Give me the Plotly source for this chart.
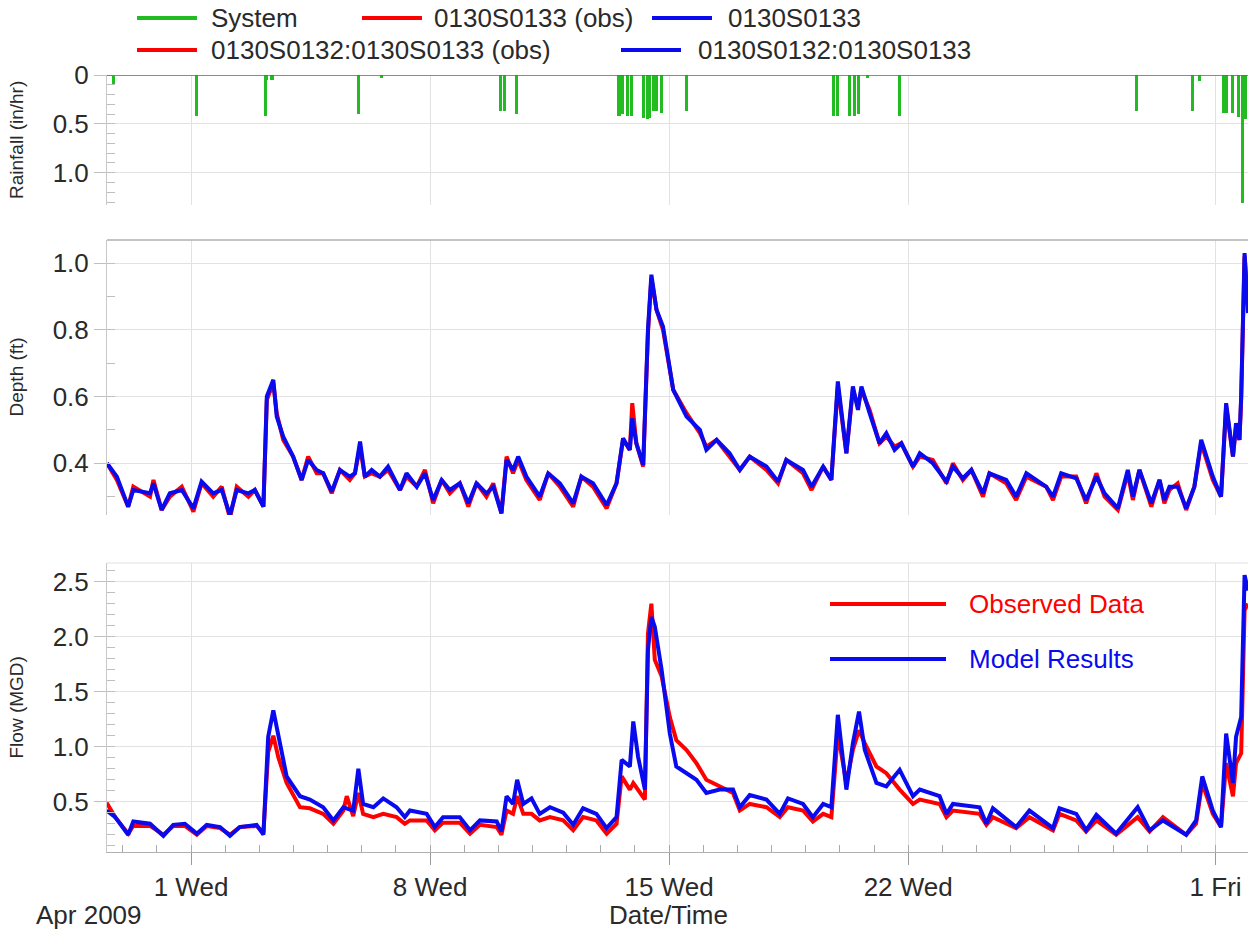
import pandas as pd
import plotly.graph_objects as go
from plotly.subplots import make_subplots

# ---------------- data (days measured from 2009-04-01 00:00) ----------------
TICK_DAYS = [0, 7, 14, 21, 30]
TICK_LABELS = ["1 Wed", "8 Wed", "15 Wed", "22 Wed", "1 Fri"]

RAIN_DAYS = [-2.27, 0.16, 2.17, 2.22, 2.37, 4.90, 5.59, 9.07, 9.19, 9.53,
             12.53, 12.64, 12.79, 12.89, 13.26, 13.36, 13.43, 13.55, 13.64, 13.77,
             14.52, 18.82, 18.94, 19.29, 19.43, 19.55, 19.81, 20.75, 27.69, 29.32,
             29.53, 30.23, 30.32, 30.50, 30.67, 30.79, 30.88]
RAIN_VALS = [0.09, 0.42, 0.42, 0.05, 0.05, 0.40, 0.03, 0.37, 0.37, 0.40,
             0.42, 0.40, 0.42, 0.42, 0.44, 0.45, 0.44, 0.37, 0.37, 0.39,
             0.37, 0.42, 0.42, 0.42, 0.42, 0.40, 0.03, 0.42, 0.37, 0.37,
             0.06, 0.39, 0.39, 0.39, 0.43, 1.31, 0.45]

DEPTH_DAYS = [-2.46, -2.17, -1.84, -1.69, -1.20, -1.10, -0.86, -0.62, -0.27, 0.07,
              0.31, 0.65, 0.90, 1.14, 1.34, 1.68, 1.87, 2.12, 2.22, 2.41,
              2.51, 2.70, 2.99, 3.24, 3.43, 3.68, 3.87, 4.12, 4.36, 4.65,
              4.80, 4.95, 5.09, 5.29, 5.53, 5.77, 6.12, 6.31, 6.61, 6.85,
              7.09, 7.34, 7.58, 7.87, 8.12, 8.36, 8.65, 8.85, 9.09, 9.24,
              9.43, 9.58, 9.82, 10.21, 10.46, 10.80, 11.19, 11.43, 11.77, 12.17,
              12.46, 12.65, 12.85, 12.92, 13.04, 13.24, 13.38, 13.48, 13.63, 13.82,
              14.12, 14.51, 14.90, 15.09, 15.39, 15.77, 16.07, 16.36, 16.85, 17.19,
              17.43, 17.92, 18.17, 18.51, 18.75, 18.94, 19.19, 19.38, 19.53, 19.63,
              19.87, 20.16, 20.36, 20.60, 20.80, 21.14, 21.34, 21.72, 22.12, 22.31,
              22.60, 22.85, 23.19, 23.38, 23.87, 24.16, 24.46, 25.04, 25.24, 25.48,
              25.92, 26.21, 26.51, 26.75, 27.14, 27.43, 27.58, 27.77, 28.12, 28.36,
              28.50, 28.65, 28.89, 29.14, 29.38, 29.58, 29.92, 30.16, 30.31, 30.51,
              30.60, 30.70, 30.75, 30.85, 30.95]
DEPTH_MODEL = [0.40, 0.36, 0.27, 0.32, 0.31, 0.34, 0.26, 0.31, 0.32, 0.265,
               0.345, 0.31, 0.32, 0.245, 0.32, 0.31, 0.32, 0.27, 0.60, 0.65,
               0.54, 0.48, 0.42, 0.35, 0.41, 0.38, 0.37, 0.315, 0.38, 0.36,
               0.37, 0.465, 0.36, 0.38, 0.36, 0.39, 0.32, 0.37, 0.33, 0.37,
               0.29, 0.35, 0.32, 0.34, 0.28, 0.34, 0.31, 0.33, 0.25, 0.41,
               0.38, 0.42, 0.36, 0.30, 0.37, 0.34, 0.28, 0.36, 0.34, 0.275,
               0.34, 0.475, 0.44, 0.535, 0.46, 0.395, 0.80, 0.965, 0.86, 0.81,
               0.62, 0.54, 0.50, 0.44, 0.47, 0.43, 0.38, 0.42, 0.39, 0.345,
               0.41, 0.38, 0.33, 0.39, 0.35, 0.645, 0.43, 0.63, 0.56, 0.63,
               0.55, 0.46, 0.49, 0.44, 0.46, 0.39, 0.43, 0.40, 0.345, 0.39,
               0.355, 0.38, 0.31, 0.37, 0.35, 0.30, 0.37, 0.33, 0.30, 0.37,
               0.355, 0.29, 0.36, 0.31, 0.265, 0.38, 0.30, 0.38, 0.28, 0.35,
               0.29, 0.33, 0.33, 0.265, 0.33, 0.47, 0.36, 0.30, 0.58, 0.42,
               0.52, 0.47, 0.60, 1.03, 0.85]
DEPTH_OBS = [0.40, 0.35, 0.27, 0.33, 0.30, 0.35, 0.26, 0.30, 0.33, 0.255,
             0.34, 0.30, 0.33, 0.235, 0.33, 0.30, 0.32, 0.27, 0.59, 0.64,
             0.55, 0.47, 0.42, 0.35, 0.42, 0.37, 0.37, 0.31, 0.38, 0.35,
             0.37, 0.45, 0.36, 0.37, 0.36, 0.38, 0.32, 0.36, 0.33, 0.38,
             0.28, 0.35, 0.31, 0.34, 0.27, 0.34, 0.30, 0.34, 0.25, 0.42,
             0.37, 0.41, 0.35, 0.29, 0.37, 0.33, 0.27, 0.36, 0.33, 0.265,
             0.34, 0.47, 0.44, 0.58, 0.46, 0.39, 0.79, 0.955, 0.86, 0.80,
             0.62, 0.55, 0.49, 0.45, 0.47, 0.42, 0.38, 0.42, 0.38, 0.34,
             0.41, 0.37, 0.32, 0.39, 0.35, 0.63, 0.43, 0.62, 0.57, 0.62,
             0.56, 0.46, 0.48, 0.45, 0.46, 0.39, 0.42, 0.41, 0.34, 0.40,
             0.35, 0.38, 0.30, 0.37, 0.34, 0.29, 0.36, 0.33, 0.29, 0.36,
             0.36, 0.28, 0.37, 0.30, 0.26, 0.37, 0.29, 0.38, 0.27, 0.35,
             0.28, 0.32, 0.34, 0.26, 0.33, 0.46, 0.35, 0.30, 0.57, 0.42,
             0.51, 0.47, 0.59, 1.02, 0.88]

FLOW_DAYS = [-2.47, -2.22, -1.84, -1.69, -1.20, -0.81, -0.52, -0.18, 0.17, 0.46,
             0.85, 1.14, 1.43, 1.92, 2.12, 2.26, 2.41, 2.56, 2.80, 3.19,
             3.48, 3.87, 4.17, 4.46, 4.56, 4.75, 4.90, 5.04, 5.34, 5.63,
             6.02, 6.26, 6.41, 6.90, 7.14, 7.38, 7.87, 8.17, 8.46, 8.95,
             9.09, 9.24, 9.43, 9.55, 9.73, 9.97, 10.21, 10.51, 10.90, 11.19,
             11.48, 11.87, 12.17, 12.46, 12.61, 12.85, 12.95, 13.09, 13.29, 13.38,
             13.48, 13.58, 13.78, 14.02, 14.21, 14.51, 14.80, 15.09, 15.48, 15.87,
             16.07, 16.36, 16.85, 17.24, 17.48, 17.92, 18.21, 18.51, 18.75, 18.94,
             19.19, 19.38, 19.56, 19.73, 20.07, 20.36, 20.75, 21.14, 21.34, 21.92,
             22.12, 22.31, 23.09, 23.29, 23.48, 24.16, 24.55, 25.24, 25.43, 25.92,
             26.21, 26.51, 27.09, 27.72, 28.07, 28.46, 29.14, 29.43, 29.61, 29.92,
             30.16, 30.31, 30.51, 30.60, 30.75, 30.85, 30.95]
FLOW_MODEL = [0.42, 0.36, 0.20, 0.32, 0.30, 0.19, 0.29, 0.30, 0.21, 0.29,
              0.27, 0.19, 0.27, 0.29, 0.20, 1.09, 1.33, 1.09, 0.73, 0.55,
              0.52, 0.45, 0.33, 0.45, 0.44, 0.42, 0.80, 0.48, 0.45, 0.53,
              0.45, 0.36, 0.42, 0.39, 0.27, 0.36, 0.36, 0.24, 0.33, 0.32,
              0.23, 0.55, 0.48, 0.70, 0.48, 0.53, 0.39, 0.45, 0.40, 0.29,
              0.44, 0.39, 0.26, 0.36, 0.88, 0.82, 1.23, 0.91, 0.61, 1.88,
              2.18, 2.09, 1.70, 1.12, 0.82, 0.76, 0.70, 0.58, 0.61, 0.61,
              0.45, 0.56, 0.52, 0.39, 0.53, 0.48, 0.36, 0.48, 0.45, 1.29,
              0.61, 1.03, 1.32, 0.97, 0.67, 0.64, 0.79, 0.55, 0.61, 0.55,
              0.39, 0.48, 0.45, 0.30, 0.44, 0.27, 0.42, 0.26, 0.44, 0.39,
              0.24, 0.38, 0.21, 0.45, 0.24, 0.33, 0.20, 0.33, 0.73, 0.42,
              0.27, 1.12, 0.67, 1.09, 1.27, 2.56, 2.42]
FLOW_OBS = [0.49, 0.36, 0.21, 0.28, 0.28, 0.20, 0.28, 0.28, 0.20, 0.28,
            0.26, 0.20, 0.27, 0.28, 0.22, 0.95, 1.10, 0.90, 0.67, 0.45,
            0.44, 0.39, 0.30, 0.42, 0.55, 0.37, 0.58, 0.39, 0.36, 0.39,
            0.36, 0.30, 0.33, 0.33, 0.24, 0.31, 0.31, 0.21, 0.29, 0.27,
            0.20, 0.42, 0.39, 0.55, 0.39, 0.39, 0.33, 0.36, 0.33, 0.24,
            0.36, 0.33, 0.21, 0.30, 0.73, 0.61, 0.67, 0.61, 0.52, 2.03,
            2.30, 1.79, 1.64, 1.27, 1.06, 0.97, 0.85, 0.70, 0.64, 0.58,
            0.42, 0.48, 0.45, 0.36, 0.45, 0.42, 0.32, 0.39, 0.36, 1.12,
            0.67, 0.97, 1.15, 1.03, 0.82, 0.76, 0.61, 0.48, 0.52, 0.48,
            0.36, 0.42, 0.39, 0.29, 0.36, 0.26, 0.36, 0.24, 0.39, 0.33,
            0.23, 0.33, 0.20, 0.36, 0.23, 0.36, 0.20, 0.30, 0.67, 0.39,
            0.27, 0.85, 0.55, 0.85, 0.94, 2.24, 2.30]

# ---------------- helpers ----------------
BASE = pd.Timestamp("2009-04-01")


def to_time(days):
    return [BASE + pd.Timedelta(days=d) for d in days]


W, H = 1249, 937
ML, MR, MT, MB = 107, 1, 75, 85
PW = W - ML - MR
PH = H - MT - MB


def px(x):
    return (x - ML) / PW


def py(y):
    return (H - MB - y) / PH


RED = "#ff0000"
BLUE = "#0a0aee"
GREEN = "#22bb22"
FONT = "Liberation Sans, Arial, sans-serif"
TXT = "#2a2a2a"
GRID = "#e2e2e2"
LW = 4

fig = make_subplots(rows=3, cols=1, shared_xaxes=True)

fig.add_trace(go.Bar(x=to_time(RAIN_DAYS), y=RAIN_VALS, width=2.2 * 3600 * 1000,
                     marker=dict(color=GREEN, line=dict(width=0)),
                     name="System", showlegend=False), row=1, col=1)
fig.add_trace(go.Scatter(x=to_time(DEPTH_DAYS), y=DEPTH_OBS, mode="lines",
                         line=dict(color=RED, width=LW),
                         name="0130S0133 (obs)", showlegend=False), row=2, col=1)
fig.add_trace(go.Scatter(x=to_time(DEPTH_DAYS), y=DEPTH_MODEL, mode="lines",
                         line=dict(color=BLUE, width=LW),
                         name="0130S0133", showlegend=False), row=2, col=1)
fig.add_trace(go.Scatter(x=to_time(FLOW_DAYS), y=FLOW_OBS, mode="lines",
                         line=dict(color=RED, width=LW),
                         name="0130S0132:0130S0133 (obs)", showlegend=False), row=3, col=1)
fig.add_trace(go.Scatter(x=to_time(FLOW_DAYS), y=FLOW_MODEL, mode="lines",
                         line=dict(color=BLUE, width=LW),
                         name="0130S0132:0130S0133", showlegend=False), row=3, col=1)

tickvals = to_time(TICK_DAYS)
xrange = [BASE + pd.Timedelta(days=-2.46), BASE + pd.Timedelta(days=30.95)]

yaxis_common = dict(showgrid=True, gridcolor=GRID, gridwidth=1,
                    ticks="outside", ticklen=12, tickcolor="#c0c0c0",
                    tickfont=dict(size=26, color=TXT, family=FONT),
                    showline=True, linecolor="#c8c8c8", linewidth=1,
                    zeroline=False,
                    minor=dict(ticks="inside", ticklen=8, tickcolor="#c0c0c0",
                               tickmode="linear", dtick=0.1, showgrid=False))

fig.update_layout(
    yaxis=dict(domain=[py(205), py(75)], range=[1.33, 0],
               tickvals=[0, 0.5, 1.0], ticktext=["0", "0.5", "1.0"], **yaxis_common),
    yaxis2=dict(domain=[py(515), py(240)], range=[0.245, 1.069],
                tickvals=[0.4, 0.6, 0.8, 1.0], ticktext=["0.4", "0.6", "0.8", "1.0"],
                **yaxis_common),
    yaxis3=dict(domain=[0, py(563)], range=[0.043, 2.67],
                tickvals=[0.5, 1.0, 1.5, 2.0, 2.5],
                ticktext=["0.5", "1.0", "1.5", "2.0", "2.5"], **yaxis_common),
)

fig.update_xaxes(range=xrange, tickvals=tickvals, ticktext=TICK_LABELS,
                 showgrid=True, gridcolor=GRID, gridwidth=1, zeroline=False)
fig.update_xaxes(ticks="", showticklabels=False, showline=False, row=1, col=1)
fig.update_xaxes(ticks="", showticklabels=False, showline=False, row=2, col=1)
fig.update_xaxes(ticks="outside", ticklen=12, tickcolor="#999999", showticklabels=True,
                 tickfont=dict(size=26, color=TXT, family=FONT),
                 showline=True, linecolor="#b0b0b0", linewidth=1,
                 minor=dict(ticks="inside", ticklen=7, tickcolor="#aaaaaa",
                            tickmode="linear", tick0="2009-04-01", dtick=86400000,
                            showgrid=False),
                 row=3, col=1)

shapes = []
# rainfall zero line and panel top borders
shapes.append(dict(type="line", xref="paper", yref="y", x0=0, x1=1, y0=0, y1=0,
                   line=dict(color="#666666", width=1.5)))
shapes.append(dict(type="line", xref="paper", yref="paper", x0=0, x1=1,
                   y0=py(240), y1=py(240), line=dict(color="#b0b0b0", width=1.5)))
shapes.append(dict(type="line", xref="paper", yref="paper", x0=0, x1=1,
                   y0=py(563), y1=py(563), line=dict(color="#e0e0e0", width=1)))

annotations = []


def legend_item(x_line, y, color, text, x_text):
    shapes.append(dict(type="line", xref="paper", yref="paper",
                       x0=px(x_line), x1=px(x_line + 60), y0=py(y), y1=py(y),
                       line=dict(color=color, width=4)))
    annotations.append(dict(text=text, xref="paper", yref="paper", x=px(x_text), y=py(y),
                            xanchor="left", yanchor="middle", showarrow=False,
                            font=dict(size=26, color=TXT, family=FONT)))


legend_item(137, 18, GREEN, "System", 209)
legend_item(362, 18, RED, "0130S0133 (obs)", 432)
legend_item(652, 18, BLUE, "0130S0133", 726)
legend_item(137, 50, RED, "0130S0132:0130S0133 (obs)", 209)
legend_item(621, 50, BLUE, "0130S0132:0130S0133", 696)

# key inside flow panel
for yk, col, txt in [(604, RED, "Observed Data"), (659, BLUE, "Model Results")]:
    shapes.append(dict(type="line", xref="paper", yref="paper",
                       x0=px(830), x1=px(946), y0=py(yk), y1=py(yk),
                       line=dict(color=col, width=4)))
    annotations.append(dict(text=txt, xref="paper", yref="paper", x=px(967), y=py(yk),
                            xanchor="left", yanchor="middle", showarrow=False,
                            font=dict(size=26, color=col, family=FONT)))

# axis titles
for ref, txt in [("y domain", "Rainfall (in/hr)"), ("y2 domain", "Depth (ft)"),
                 ("y3 domain", "Flow (MGD)")]:
    annotations.append(dict(text=txt, xref="paper", yref=ref, x=px(16), y=0.5,
                            xanchor="center", yanchor="middle", textangle=-90,
                            showarrow=False, font=dict(size=19, color=TXT, family=FONT)))

annotations.append(dict(text="Apr 2009", xref="paper", yref="paper", x=px(34), y=py(915),
                        xanchor="left", yanchor="middle", showarrow=False,
                        font=dict(size=26, color=TXT, family=FONT)))
annotations.append(dict(text="Date/Time", xref="paper", yref="paper", x=px(668), y=py(915),
                        xanchor="center", yanchor="middle", showarrow=False,
                        font=dict(size=26, color=TXT, family=FONT)))

fig.update_layout(
    width=W, height=H,
    margin=dict(l=ML, r=MR, t=MT, b=MB),
    paper_bgcolor="white", plot_bgcolor="white",
    showlegend=False,
    font=dict(family=FONT, color=TXT),
    shapes=shapes, annotations=annotations,
    bargap=0,
)

fig.write_html("out.html")
